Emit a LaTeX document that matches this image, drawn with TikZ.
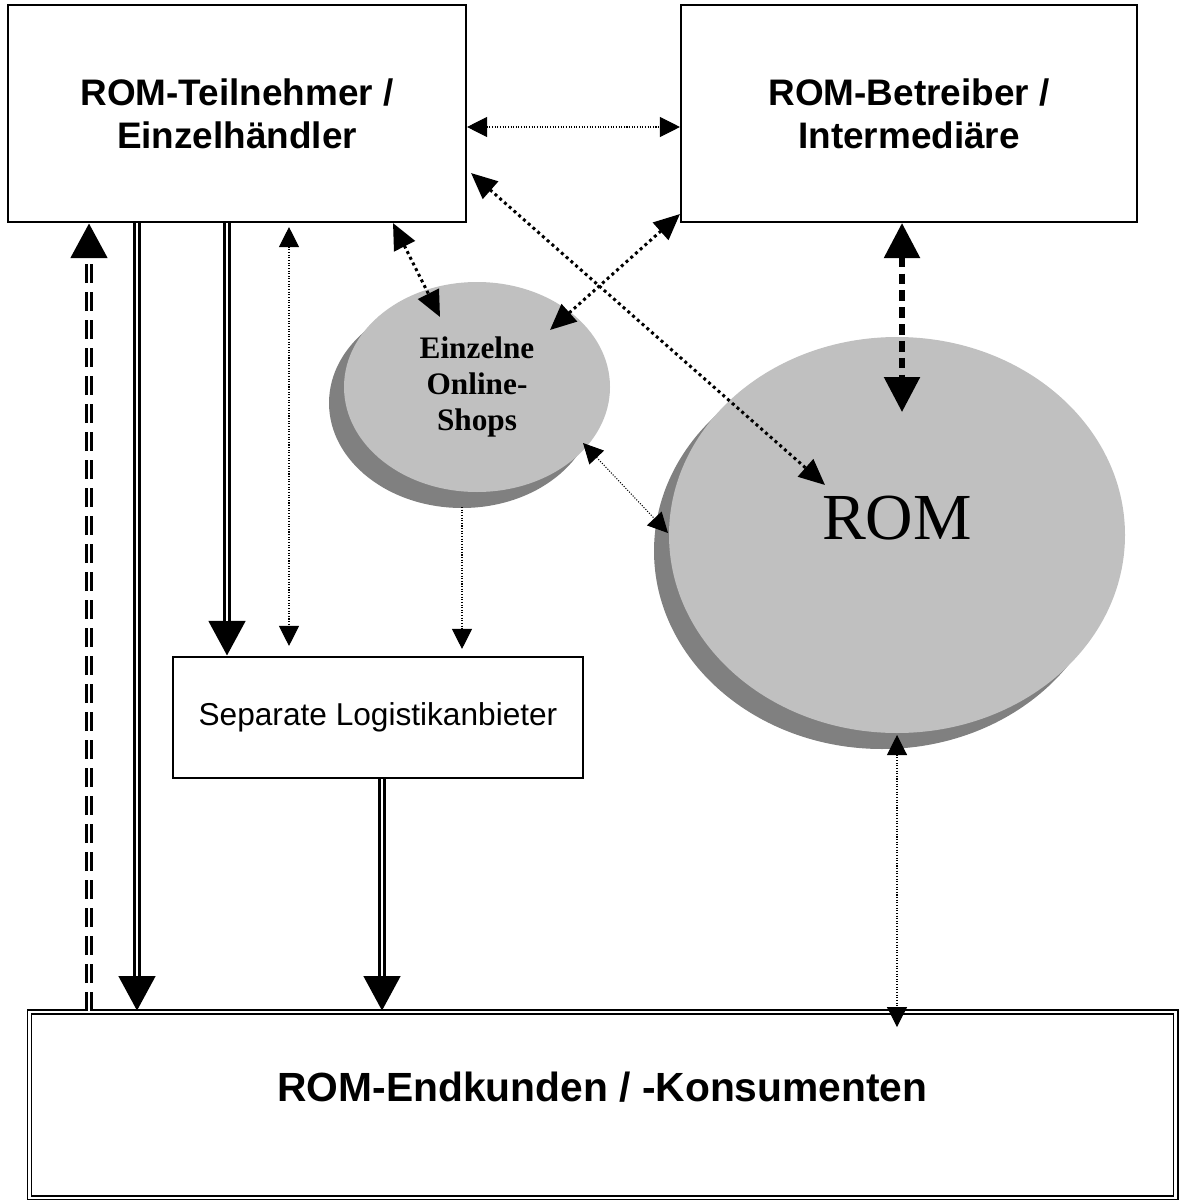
\documentclass[tikz,border=0pt]{standalone}
\usepackage{fontspec}
\setmainfont{Liberation Serif}
\setsansfont{Liberation Sans}
\usetikzlibrary{arrows.meta,calc,shapes.geometric,shadows}
\definecolor{lgray}{RGB}{192,192,192}
\definecolor{dgray}{RGB}{128,128,128}

\begin{document}
\begin{tikzpicture}[x=0.1mm, y=-0.1mm,
		tipL/.tip={Triangle[length=3.5mm, width=3.5mm]},
		tipM/.tip={Triangle[length=2.6mm, width=2.3mm]},
		tipS/.tip={Triangle[length=2mm, width=2mm]},
		box/.style={draw, line width=0.6pt, inner sep=0pt, align=center, font=\sffamily\bfseries\fontsize{10.5}{12.2}\selectfont},
		blob/.style={ellipse, fill=lgray, inner sep=0pt, align=center, drop shadow={shadow xshift=-1.5mm, shadow yshift=-1.6mm, opacity=1, fill=dgray}},
		thin/.style={line width=0.3pt, dash pattern=on 0.3pt off 0.45pt},
		dots/.style={line width=0.85pt, dash pattern=on 0.85pt off 0.95pt},
		fat/.style={line width=1.6pt, dash pattern=on 3pt off 1.8pt},
		dbl/.style={line width=0.77mm, postaction={draw, white, line width=0.25mm, shorten >=3.5mm, -}}]
		\useasboundingbox (0,0) rectangle (1179,1200);
		% boxes
		\node[box, minimum width=45.8mm, minimum height=21.7mm] (tn) at (237,113.5) {ROM-Teilnehmer /\\Einzelhändler};
		\node[box, minimum width=45.6mm, minimum height=21.7mm] (bt) at (909,113.5) {ROM-Betreiber /\\Intermediäre};
		\node[box, font=\sffamily\fontsize{9}{11}\selectfont, minimum width=41mm, minimum height=12.1mm] (log) at (378,717.5) {Separate Logistikanbieter};
		\node[box, double, line width=0.55pt, double distance=0.6pt, font=\sffamily\bfseries\fontsize{11.6}{13.5}\selectfont,
			minimum width=114.6mm, minimum height=18.6mm, text depth=3.6mm] (ek) at (602.5,1105) {ROM-Endkunden / -Konsumenten};
		% ellipses
		\node[blob, minimum width=26.6mm, minimum height=21mm, font=\rmfamily\bfseries\fontsize{8.9}{10.2}\selectfont] (shops) at (477,387) {Einzelne\\Online-\\Shops};
		\node[blob, minimum width=45.6mm, minimum height=39.6mm, font=\rmfamily\fontsize{18.7}{22}\selectfont, text depth=3.4mm] (rom) at (897,535) {ROM};
		% double lines
		\draw[dbl, dash pattern=on 1.9mm off 0.9mm, -tipL] (ek.north -| 89,0) -- (tn.south -| 89,0);
		\draw[dbl, -tipL] (tn.south -| 137,0) -- (ek.north -| 137,0);
		\draw[dbl, -tipL] (tn.south -| 227,0) -- (log.north -| 227,0);
		\draw[dbl, -tipL] (log.south -| 382,0) -- (ek.north -| 382,0);
		% dotted arrows
		\draw[thin, tipS-tipS] (tn.east |- 0,127) -- (bt.west |- 0,127);
		\draw[thin, tipS-tipS, shorten <=0.4mm, shorten >=1mm] (tn.south -| 289,0) -- (log.north -| 289,0);
		\draw[thin, -tipS, shorten >=0.7mm] ($(shops.center)+(-15,120)$) -- (log.north -| 462,0);
		\draw[thin, tipS-tipS] ($(shops.center)+(106,56)$) -- ($(rom.center)+(-229,-2)$);
		\draw[thin, tipS-tipS] ($(rom.center)+(0,200)$) -- ($(ek.north -| rom.center)+(0,16)$);
		\draw[dots, tipM-tipM] (tn.south -| 393,0) -- ($(shops.center)+(-37,-70)$);
		\draw[dots, tipM-tipM] ($(bt.south west)+(0,-9)$) -- ($(shops.center)+(73,-57)$);
		\draw[dots, tipM-tipM] ($(tn.south east)+(4,-50)$) -- ($(rom.center)+(-72,-50)$);
		\draw[fat, tipL-tipL] (bt.south -| 902,0) -- ($(rom.center)+(5,-123)$);
	\end{tikzpicture}
\end{document}
